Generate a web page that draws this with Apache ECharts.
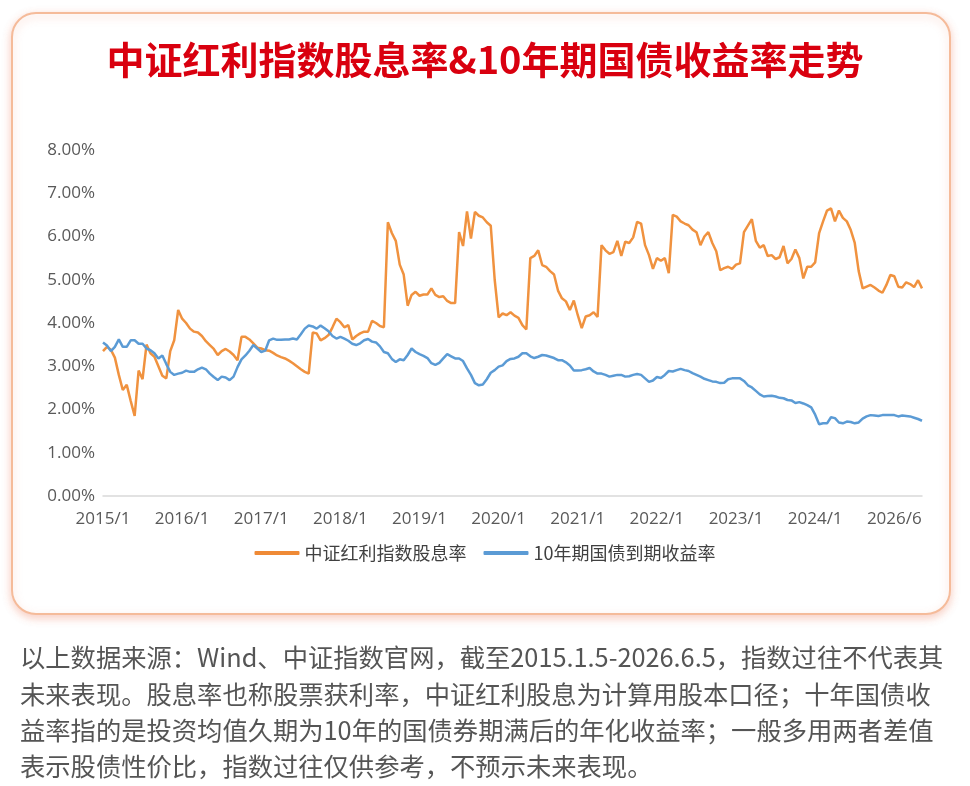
<!DOCTYPE html>
<html>
<head>
<meta charset="utf-8">
<script src="https://cdn.jsdelivr.net/npm/echarts@6/dist/echarts.min.js"></script>
<style>
  html, body { margin: 0; padding: 0; background: #fff; }
  #main { width: 970px; height: 786px; }
</style>
</head>
<body>
<div id="main"></div>
<script>
// Tick labels shown every 20 points on the x axis
var tickLabels = ['2015/1', '2016/1', '2017/1', '2018/1', '2019/1', '2020/1',
  '2021/1', '2022/1', '2023/1', '2024/1', '2026/6'];
var labelStep = 20;

// 中证红利指数股息率 (%)
var dividendYield = [
  3.35, 3.45, 3.38, 3.2, 2.8, 2.45, 2.57, 2.2, 1.85, 2.9,
  2.7, 3.5, 3.3, 3.22, 3.0, 2.78, 2.72, 3.35, 3.6, 4.3,
  4.1, 4.0, 3.87, 3.8, 3.78, 3.7, 3.58, 3.49, 3.4, 3.26,
  3.35, 3.4, 3.34, 3.26, 3.14, 3.68, 3.68, 3.62, 3.53, 3.43,
  3.41, 3.37, 3.36, 3.31, 3.25, 3.21, 3.18, 3.13, 3.07, 3.0,
  2.93, 2.87, 2.83, 3.78, 3.76, 3.6, 3.65, 3.72, 3.9, 4.1,
  4.02, 3.9, 3.95, 3.62, 3.7, 3.76, 3.8, 3.8, 4.05,
  4.0, 3.93, 3.9, 6.33, 6.08, 5.9, 5.35, 5.12, 4.4, 4.65,
  4.72, 4.63, 4.66, 4.66, 4.8, 4.65, 4.6, 4.62, 4.51, 4.46,
  4.46, 6.1, 5.78, 6.58, 5.95, 6.57, 6.48, 6.44, 6.33, 6.25,
  5.0, 4.13, 4.22, 4.18, 4.25, 4.17, 4.12, 3.95, 3.85, 5.5,
  5.55, 5.68, 5.34, 5.3, 5.2, 5.12, 4.75, 4.57, 4.5, 4.3,
  4.52, 4.18, 3.88, 4.15, 4.18, 4.25, 4.14, 5.8, 5.68, 5.6,
  5.64, 5.9, 5.55, 5.88, 5.85, 5.98, 6.34, 6.3, 5.8, 5.57,
  5.25, 5.5, 5.44, 5.5, 5.15, 6.5, 6.46, 6.35, 6.3, 6.26,
  6.16, 6.1, 5.8, 6.0, 6.1, 5.85, 5.66, 5.22, 5.27, 5.3,
  5.25, 5.35, 5.38, 6.1, 6.25, 6.4, 5.9, 5.74, 5.8, 5.55,
  5.57, 5.48, 5.52, 5.78, 5.38, 5.48, 5.7, 5.5, 5.03, 5.3,
  5.3, 5.4, 6.08, 6.35, 6.6, 6.65, 6.35, 6.6, 6.43, 6.35,
  6.15, 5.85, 5.2, 4.8, 4.84, 4.88, 4.82, 4.75, 4.7, 4.88,
  5.11, 5.08, 4.84, 4.82, 4.94, 4.9, 4.83, 4.99, 4.8
];

// 10年期国债到期收益率 (%)
var bondYield = [
  3.55, 3.48, 3.35, 3.45, 3.62, 3.45, 3.45, 3.6, 3.6, 3.52,
  3.52, 3.41, 3.37, 3.3, 3.18, 3.25, 3.05, 2.87, 2.8, 2.83,
  2.85, 2.9, 2.87, 2.87, 2.93, 2.97, 2.93, 2.83, 2.75, 2.68,
  2.76, 2.74, 2.68, 2.76, 2.98, 3.16, 3.25, 3.36, 3.49, 3.41,
  3.33, 3.36, 3.6, 3.64, 3.61, 3.61, 3.62, 3.62, 3.64, 3.62,
  3.74, 3.87, 3.94, 3.92, 3.87, 3.94, 3.88, 3.81, 3.7, 3.64,
  3.68, 3.64, 3.59, 3.52, 3.49, 3.53, 3.6, 3.63, 3.57,
  3.55, 3.46, 3.33, 3.3, 3.17, 3.1, 3.16, 3.14, 3.26, 3.41,
  3.33, 3.28, 3.24, 3.19, 3.07, 3.03, 3.08, 3.18, 3.28, 3.23,
  3.18, 3.18, 3.12, 2.95, 2.8, 2.61, 2.56, 2.58, 2.7, 2.85,
  2.91, 2.99, 3.02, 3.12, 3.17, 3.18, 3.22, 3.3, 3.3, 3.23,
  3.19, 3.22, 3.26, 3.25, 3.22, 3.19, 3.14, 3.14, 3.09, 3.02,
  2.9, 2.9, 2.91, 2.93, 2.96, 2.88, 2.83, 2.83, 2.8, 2.76,
  2.78, 2.8, 2.8, 2.76, 2.77, 2.8, 2.82, 2.8, 2.72, 2.64,
  2.67, 2.75, 2.73, 2.8, 2.89, 2.88, 2.91, 2.94, 2.91, 2.89,
  2.84, 2.8, 2.76, 2.71, 2.68, 2.65, 2.64, 2.61, 2.62, 2.7,
  2.72, 2.72, 2.72, 2.66, 2.56, 2.51, 2.43, 2.35, 2.3, 2.31,
  2.32, 2.3, 2.27, 2.26, 2.22, 2.21, 2.15, 2.17, 2.14, 2.1,
  2.05, 1.88, 1.66, 1.68, 1.68, 1.82, 1.8, 1.7, 1.68, 1.72,
  1.71, 1.68, 1.7, 1.79, 1.84, 1.87, 1.86, 1.85, 1.87, 1.87,
  1.87, 1.87, 1.84, 1.86, 1.85, 1.84, 1.81, 1.78, 1.74
];

var seriesNames = ['中证红利指数股息率', '10年期国债到期收益率'];
var titleText = '中证红利指数股息率&10年期国债收益率走势';
var noteLines = [
  '以上数据来源：Wind、中证指数官网，截至2015.1.5-2026.6.5，指数过往不代表其',
  '未来表现。股息率也称股票获利率，中证红利股息为计算用股本口径；十年国债收',
  '益率指的是投资均值久期为10年的国债券期满后的年化收益率；一般多用两者差值',
  '表示股债性价比，指数过往仅供参考，不预示未来表现。'
];

var myChart = echarts.init(document.getElementById('main'));

function buildCategories() {
  var cats = [];
  for (var i = 0; i < dividendYield.length; i++) {
    cats.push(String(i));
  }
  return cats;
}

function buildGraphic() {
  var els = [
    {
      type: 'rect',
      z: -10,
      shape: { x: 12, y: 13, width: 938, height: 601, r: 24 },
      style: {
        fill: '#fff',
        stroke: '#f5bb9a',
        lineWidth: 2,
        shadowBlur: 8,
        shadowOffsetY: 3,
        shadowColor: 'rgba(235,120,90,0.35)'
      }
    },
    {
      type: 'text',
      left: 'center',
      top: 41,
      style: {
        text: titleText,
        fill: '#d9000f',
        font: 'bold 38px "Noto Sans CJK SC", sans-serif'
      }
    }
  ];
  noteLines.forEach(function (line, i) {
    els.push({
      type: 'text',
      left: 20,
      top: 645 + i * 36.3,
      style: {
        text: line,
        fill: '#555',
        font: '25.3px "Noto Sans CJK SC", sans-serif'
      }
    });
  });
  return els;
}

var option = {
  animation: false,
  backgroundColor: '#fff',
  color: ['#f0923f', '#5b9bd5'],
  graphic: buildGraphic(),
  grid: { left: 103, right: 48, top: 150, bottom: 290, containLabel: false },
  legend: {
    bottom: 219,
    left: 'center',
    icon: 'roundRect',
    itemWidth: 45,
    itemHeight: 4,
    itemGap: 17,
    textStyle: { fontSize: 18, color: '#404040', fontFamily: '"Noto Sans CJK SC", sans-serif' },
    data: seriesNames
  },
  xAxis: {
    type: 'category',
    boundaryGap: false,
    data: buildCategories(),
    axisLine: { lineStyle: { color: '#d9d9d9', width: 1.5 } },
    axisTick: { show: false },
    axisLabel: {
      interval: labelStep - 1,
      margin: 15,
      fontSize: 17,
      color: '#595959',
      fontFamily: '"Open Sans", sans-serif',
      formatter: function (value, index) {
        return tickLabels[index / labelStep] || '';
      }
    },
    splitLine: { show: false }
  },
  yAxis: {
    type: 'value',
    min: 0,
    max: 8,
    interval: 1,
    axisLine: { show: false },
    axisTick: { show: false },
    splitLine: { show: false },
    axisLabel: {
      margin: 8,
      fontSize: 17,
      color: '#595959',
      fontFamily: '"Open Sans", sans-serif',
      formatter: function (v) { return v.toFixed(2) + '%'; }
    }
  },
  series: [
    {
      name: seriesNames[0],
      type: 'line',
      symbol: 'none',
      lineStyle: { width: 2.5, color: '#f0923f' },
      itemStyle: { color: '#ef8a36' },
      data: dividendYield
    },
    {
      name: seriesNames[1],
      type: 'line',
      symbol: 'none',
      lineStyle: { width: 2.5, color: '#5b9bd5' },
      itemStyle: { color: '#5b9bd5' },
      data: bondYield
    }
  ]
};

myChart.setOption(option);
</script>
</body>
</html>
